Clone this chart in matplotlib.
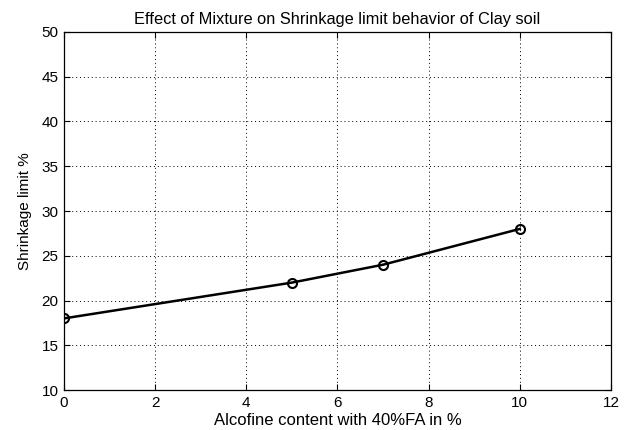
import matplotlib
matplotlib.use("Agg")
import matplotlib.pyplot as plt

plt.rcParams['font.family'] = ['Liberation Sans', 'DejaVu Sans']

alcofine = [0, 5, 7, 10]
shrinkage = [18, 22, 24, 28]

xticks = [0, 2, 4, 6, 8, 10, 12]
yticks = [10, 15, 20, 25, 30, 35, 40, 45, 50]

fig = plt.figure(figsize=(6.31, 4.30), dpi=100)
ax = fig.add_axes([0.1014, 0.093, 0.8669, 0.8326])

ax.plot(alcofine, shrinkage, color="black", linewidth=1.8, marker="o",
        markersize=6.5, markerfacecolor="none", markeredgewidth=1.5)

ax.set_xlim(0, 12)
ax.set_ylim(10, 50)
ax.set_xticks(xticks)
ax.set_yticks(yticks)
ax.grid(True, linestyle=(0, (1, 3)), color="black", linewidth=0.7)
ax.tick_params(direction="in", top=True, right=True, length=4, labelsize=11,
               colors="black", pad=4)
for s in ax.spines.values():
    s.set_linewidth(0.9)

ax.set_title("Effect of Mixture on Shrinkage limit behavior of Clay soil",
             fontsize=11.8, pad=6)
ax.set_xlabel("Alcofine content with 40%FA in %", fontsize=12, labelpad=2.5)
ax.set_ylabel("Shrinkage limit %", fontsize=11, labelpad=7)

fig.savefig("out.png", dpi=100)
